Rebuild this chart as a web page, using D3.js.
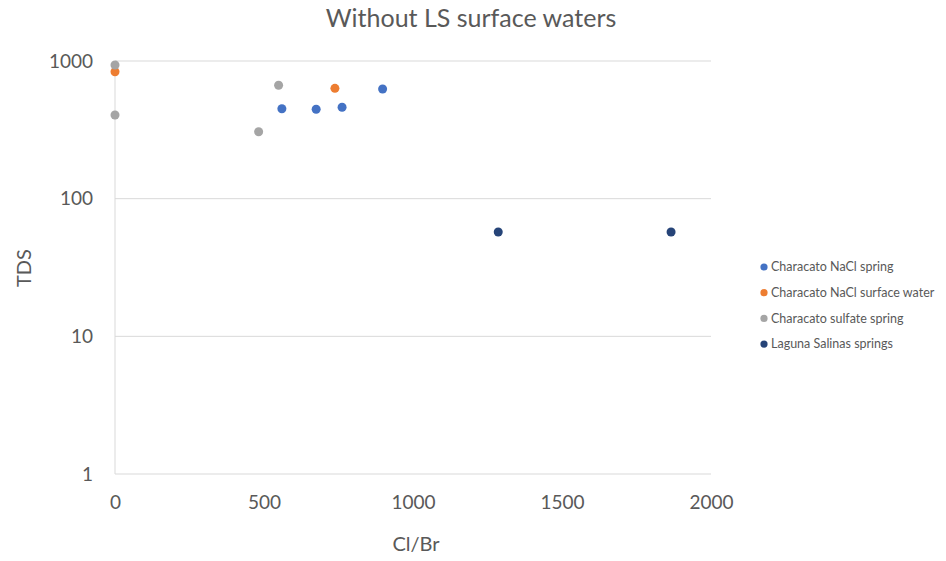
<!DOCTYPE html>
<html><head><meta charset="utf-8">
<script src="https://cdn.jsdelivr.net/npm/d3@7"></script>
<style>body{margin:0;background:#fff;} text{font-family:Lato, "Open Sans", sans-serif;}</style>
</head><body><svg id="c" width="946" height="561"></svg>
<script>
const seriesNames = ["Characato NaCl spring","Characato NaCl surface water","Characato sulfate spring","Laguna Salinas springs"];
const seriesColors = ["#4472C4","#ED7D31","#A5A5A5","#264478"];
const naclSpringX = [560, 675, 762, 898];
const naclSpringY = [450, 446, 461, 626];
const naclSurfX = [0, 738];
const naclSurfY = [836, 633];
const sulfateX = [0, 0, 549, 482];
const sulfateY = [935, 405, 666, 306];
const lagunaX = [1286, 1866];
const lagunaY = [57.3, 57.3];
const xTicks = [0, 500, 1000, 1500, 2000];
const yTicks = [1, 10, 100, 1000];

const series = [
  {x: naclSpringX, y: naclSpringY},
  {x: naclSurfX, y: naclSurfY},
  {x: sulfateX, y: sulfateY},
  {x: lagunaX, y: lagunaY}
];

const svg = d3.select("#c");
const L = 115, R = 711, T = 61, B = 474;
const x = d3.scaleLinear().domain([0, 2000]).range([L, R]);
const y = d3.scaleLog().domain([1, 1000]).range([B, T]);

// gridlines
svg.append("g").selectAll("line").data(yTicks).join("line")
  .attr("x1", L).attr("x2", R).attr("y1", d => y(d)).attr("y2", d => y(d))
  .attr("stroke", "#d9d9d9").attr("stroke-width", 1);
svg.append("line").attr("x1", L).attr("x2", L).attr("y1", T).attr("y2", B)
  .attr("stroke", "#d9d9d9").attr("stroke-width", 1);

// y axis labels
const yAxis = d3.axisLeft(y).tickValues(yTicks).tickFormat(d3.format("d")).tickSize(0).tickPadding(22);
const gy = svg.append("g").attr("transform", `translate(${L},0)`).call(yAxis);
gy.select(".domain").remove();
gy.selectAll("text").attr("font-size", 19).attr("fill", "#595959").style("font-family", "Lato, 'Open Sans', sans-serif");

const xAxis = d3.axisBottom(x).tickValues(xTicks).tickFormat(d3.format("d")).tickSize(0).tickPadding(22);
const gx = svg.append("g").attr("transform", `translate(0,${B})`).call(xAxis);
gx.select(".domain").remove();
gx.selectAll("text").attr("font-size", 19).attr("fill", "#595959").style("font-family", "Lato, 'Open Sans', sans-serif");

// points
series.forEach((s, i) => {
  svg.append("g").selectAll("circle").data(s.x.map((v, j) => [v, s.y[j]])).join("circle")
    .attr("cx", d => x(d[0])).attr("cy", d => y(d[1])).attr("r", 4.5)
    .attr("fill", seriesColors[i]);
});

// titles
svg.append("text").attr("x", 471).attr("y", 27).attr("text-anchor", "middle")
  .attr("font-size", 25).attr("fill", "#595959").text("Without LS surface waters");
svg.append("text").attr("x", 416).attr("y", 551).attr("text-anchor", "middle")
  .attr("font-size", 20).attr("fill", "#595959").text("Cl/Br");
svg.append("text").attr("transform", "translate(31,268) rotate(-90)").attr("text-anchor", "middle")
  .attr("font-size", 20).attr("fill", "#595959").text("TDS");

// legend
const lg = svg.append("g").selectAll("g").data(seriesNames).join("g")
  .attr("transform", (d, i) => `translate(764,${267 + i * 25.7})`);
lg.append("circle").attr("r", 3.6).attr("fill", (d, i) => seriesColors[i]);
lg.append("text").attr("x", 7).attr("dy", "0.35em").attr("font-size", 12.5).attr("fill", "#595959").text(d => d);
</script></body></html>
